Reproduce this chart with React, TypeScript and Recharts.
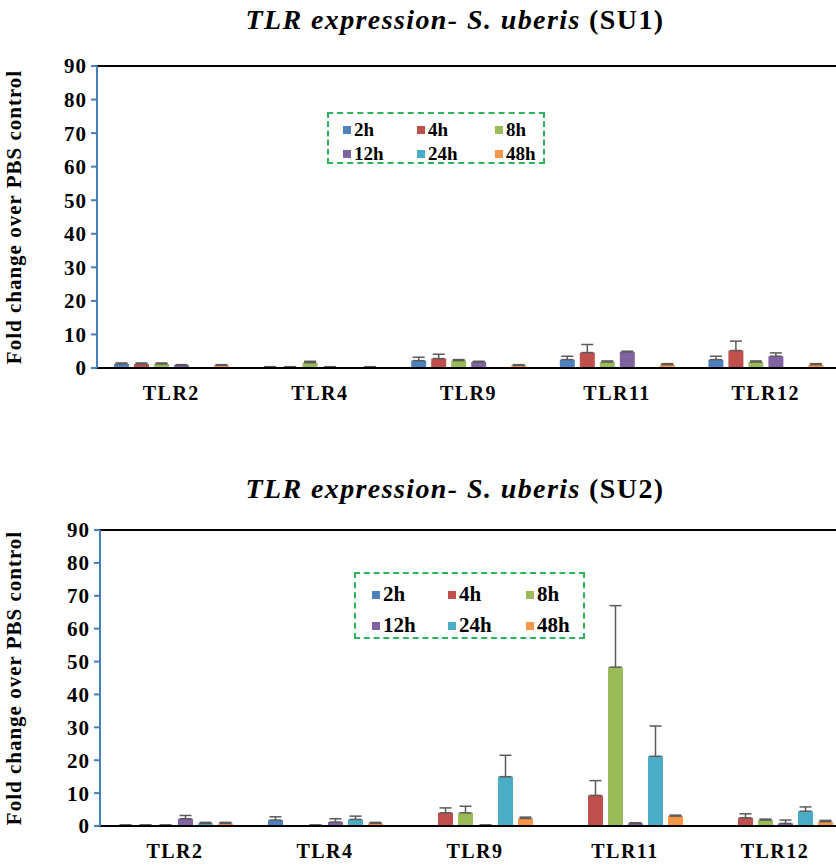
import { BarChart, Bar, XAxis, YAxis, ErrorBar, ReferenceLine, Label } from "recharts";

const CATEGORIES = ["TLR2", "TLR4", "TLR9", "TLR11", "TLR12"];
const HOURS = ["2h", "4h", "8h", "12h", "24h", "48h"];
const COLORS = ["#4f81bd", "#c0504d", "#9bbb59", "#8064a2", "#4bacc6", "#f79646"];
const Y_TICKS = [0, 10, 20, 30, 40, 50, 60, 70, 80, 90];

// SU1 – fold change per hour, one value per TLR
const su1_2h = [1.2, 0.3, 2.2, 2.5, 2.5];
const su1_4h = [1.2, 0.3, 2.8, 4.6, 5.2];
const su1_8h = [1.2, 1.6, 2.2, 1.8, 1.8];
const su1_12h = [0.8, 0.3, 1.8, 4.8, 3.5];
const su1_24h = [0, 0, 0, 0, 0];
const su1_48h = [0.8, 0.3, 0.8, 1.0, 1.0];

const su1_2h_err = [0.3, 0.1, 1.0, 1.0, 1.0];
const su1_4h_err = [0.3, 0.1, 1.3, 2.4, 2.8];
const su1_8h_err = [0.3, 0.4, 0.3, 0.3, 0.3];
const su1_12h_err = [0.2, 0.1, 0.2, 0.2, 1.0];
const su1_24h_err = [0, 0, 0, 0, 0];
const su1_48h_err = [0.2, 0.1, 0.2, 0.3, 0.3];

// SU2
const su2_2h = [0.3, 1.8, 0, 0, 0];
const su2_4h = [0.3, 0, 4.0, 9.3, 2.5];
const su2_8h = [0.3, 0.3, 4.0, 48.3, 1.8];
const su2_12h = [2.2, 1.2, 0.3, 0.8, 0.8];
const su2_24h = [0.8, 2.0, 15.0, 21.2, 4.5];
const su2_48h = [0.8, 0.8, 2.3, 3.0, 1.3];

const su2_2h_err = [0, 1.0, 0, 0, 0];
const su2_4h_err = [0, 0, 1.5, 4.5, 1.2];
const su2_8h_err = [0, 0, 2.0, 18.7, 0.3];
const su2_12h_err = [1.0, 1.0, 0, 0.2, 1.0];
const su2_24h_err = [0.3, 1.0, 6.5, 9.2, 1.3];
const su2_48h_err = [0.3, 0.3, 0.4, 0.3, 0.4];

const SU1_VALUES = [su1_2h, su1_4h, su1_8h, su1_12h, su1_24h, su1_48h];
const SU1_ERRORS = [su1_2h_err, su1_4h_err, su1_8h_err, su1_12h_err, su1_24h_err, su1_48h_err];
const SU2_VALUES = [su2_2h, su2_4h, su2_8h, su2_12h, su2_24h, su2_48h];
const SU2_ERRORS = [su2_2h_err, su2_4h_err, su2_8h_err, su2_12h_err, su2_24h_err, su2_48h_err];

const FONT = "Liberation Serif";
const AXIS_BLUE = "#4a7ebb";

function buildRows(values: number[][], errors: number[][]) {
  return CATEGORIES.map((name, i) => {
    const row: Record<string, any> = { name };
    HOURS.forEach((h, k) => {
      row[h] = values[k][i];
      row[h + "_err"] = values[k][i] > 0 ? [0, errors[k][i]] : null;
    });
    return row;
  });
}

function LegendBox({ left, top, width, height, fontSize, colX, rowY }: {
  left: number; top: number; width: number; height: number; fontSize: number; colX: number[]; rowY: number[];
}) {
  return (
    <div style={{ position: "absolute", left, top, width, height, border: "2px dashed #2fb35a", boxSizing: "border-box", fontFamily: FONT, fontWeight: "bold", fontSize }}>
      {HOURS.map((h, k) => (
        <div key={h} style={{ position: "absolute", left: colX[k % 3], top: rowY[Math.floor(k / 3)], display: "flex", alignItems: "center", lineHeight: 1 }}>
          <span style={{ display: "inline-block", width: 8, height: 8, background: COLORS[k], marginRight: 3 }} />
          <span>{h}</span>
        </div>
      ))}
    </div>
  );
}

function Panel({ suffix, values, errors, top, titleTop, width, height, yAxisWidth }: {
  suffix: string; values: number[][]; errors: number[][]; top: number; titleTop: number; width: number; height: number; yAxisWidth: number;
}) {
  const rows = buildRows(values, errors);
  return (
    <div style={{ position: "absolute", left: 0, top }}>
      <BarChart width={width} height={height} data={rows} margin={{ top: 66, right: 20, left: 0, bottom: 0 }} barSize={15} barGap={5}>
        <XAxis dataKey="name" axisLine={{ stroke: "#000", strokeWidth: 2 }} tickLine={false} height={40} tickMargin={12}
          tick={{ fill: "#000", fontSize: 20, fontWeight: "bold", fontFamily: FONT, letterSpacing: 1.5 }} />
        <YAxis domain={[0, 90]} ticks={Y_TICKS} width={yAxisWidth} axisLine={{ stroke: AXIS_BLUE, strokeWidth: 2 }}
          tickLine={{ stroke: AXIS_BLUE, strokeWidth: 2 }} tickSize={6} tickMargin={4} interval={0}
          tick={{ fill: "#000", fontSize: 21, fontWeight: "bold", fontFamily: FONT, letterSpacing: 1 }}>
          <Label value="Fold  change over PBS control" angle={-90} position="insideLeft" offset={14}
            style={{ textAnchor: "middle", fill: "#000", fontSize: 21, fontWeight: "bold", fontFamily: FONT, letterSpacing: 1 }} />
        </YAxis>
        <ReferenceLine y={90} stroke="#000" strokeWidth={2} />
        {HOURS.map((h, k) => (
          <Bar key={h} dataKey={h} fill={COLORS[k]} isAnimationActive={false}>
            <ErrorBar dataKey={h + "_err"} direction="y" width={6} stroke="#5a5a5a" strokeWidth={1.5} />
          </Bar>
        ))}
      </BarChart>
      <div style={{ position: "absolute", left: 0, top: titleTop, width: 910, textAlign: "center", fontFamily: FONT, fontWeight: "bold", fontSize: 28, letterSpacing: 1.4, whiteSpace: "nowrap" }}>
        <i>TLR expression- S. uberis</i> ({suffix})
      </div>
    </div>
  );
}

export default function App() {
  return (
    <div style={{ position: "fixed", left: 0, top: 0, width: 836, height: 866, overflow: "hidden", background: "#fff" }}>
      <Panel suffix="SU1" values={SU1_VALUES} errors={SU1_ERRORS} top={0} titleTop={4} width={860} height={408} yAxisWidth={97} />
      <Panel suffix="SU2" values={SU2_VALUES} errors={SU2_ERRORS} top={464} titleTop={9} width={870} height={402} yAxisWidth={100} />
      <LegendBox left={327} top={112} width={218} height={52} fontSize={19} colX={[14, 88, 166]} rowY={[6, 30]} />
      <LegendBox left={354} top={572} width={231} height={67} fontSize={21} colX={[16, 92, 170]} rowY={[10, 41]} />
    </div>
  );
}
